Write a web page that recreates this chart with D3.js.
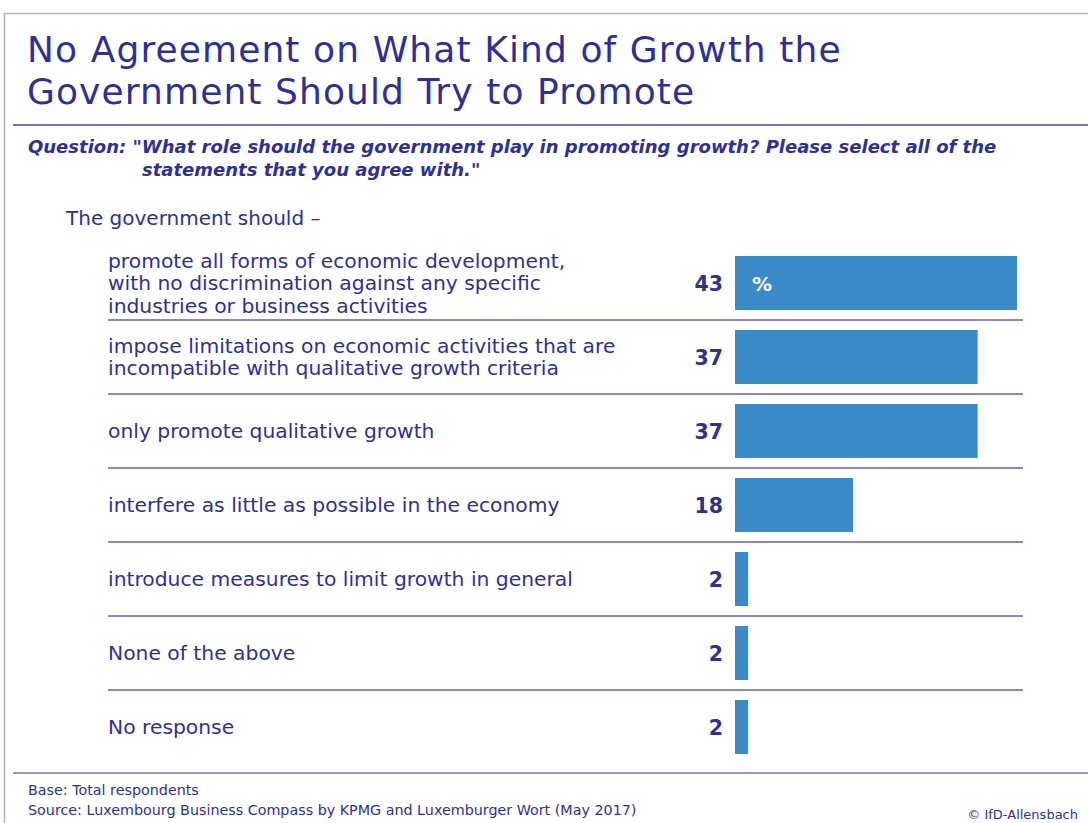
<!DOCTYPE html>
<html>
<head>
<meta charset="utf-8">
<script src="https://cdn.jsdelivr.net/npm/d3@7"></script>
<style>
  html, body { margin: 0; padding: 0; background: #fff; }
  svg { display: block; font-family: "DejaVu Sans", "Liberation Sans", sans-serif; }
</style>
</head>
<body>
<svg id="chart" width="1088" height="823"></svg>
<script>
// Survey answers (multiple selections allowed), in percent
const categories = [
  ["promote all forms of economic development,", "with no discrimination against any specific", "industries or business activities"],
  ["impose limitations on economic activities that are", "incompatible with qualitative growth criteria"],
  ["only promote qualitative growth"],
  ["interfere as little as possible in the economy"],
  ["introduce measures to limit growth in general"],
  ["None of the above"],
  ["No response"]
];
const values = [43, 37, 37, 18, 2, 2, 2];

const titleLines = ["No Agreement on What Kind of Growth the", "Government Should Try to Promote"];
const questionLines = ["Question: \"What role should the government play in promoting growth? Please select all of the", "statements that you agree with.\""];
const leadIn = "The government should \u2013";
const footnotes = ["Base: Total respondents", "Source: Luxembourg Business Compass by KPMG and Luxemburger Wort (May 2017)"];
const credit = "\u00a9 IfD-Allensbach";

const navy = "#2e3192";
const barColor = "#3b8bc9";
const ruleColor = "#7474bb";

const svg = d3.select("#chart");

// page frame
svg.append("path")
  .attr("d", "M4.5,823 V13.5 H1088")
  .attr("fill", "none").attr("stroke", "#b4b4b4").attr("stroke-width", 1.5);

// two-line title
svg.append("text")
  .attr("fill", navy).attr("font-size", 36).attr("letter-spacing", 1.1)
  .selectAll("tspan").data(titleLines).join("tspan")
  .attr("x", 27).attr("y", (d, i) => 62 + i * 42)
  .text(d => d);

svg.append("line").attr("x1", 13).attr("x2", 1088).attr("y1", 125).attr("y2", 125)
  .attr("stroke", ruleColor).attr("stroke-width", 2);

// question, second line indented under the quote
svg.append("text")
  .attr("fill", navy).attr("font-size", 18).attr("font-weight", "bold").attr("font-style", "italic")
  .selectAll("tspan").data(questionLines).join("tspan")
  .attr("x", (d, i) => i === 0 ? 28 : 142).attr("y", (d, i) => 153 + i * 23)
  .text(d => d);

svg.append("text").attr("x", 66).attr("y", 225)
  .attr("fill", navy).attr("font-size", 20).text(leadIn);

// scales
const y = d3.scaleBand().domain(d3.range(values.length)).range([246, 764]).paddingInner(0.27).paddingOuter(0.135);
const x = d3.scaleLinear().domain([0, 43]).range([735, 1017]);
const step = y.step();

const rows = svg.append("g").selectAll("g").data(values).join("g");

rows.append("rect")
  .attr("x", x(0)).attr("y", (d, i) => y(i))
  .attr("width", d => x(d) - x(0)).attr("height", y.bandwidth())
  .attr("fill", barColor);

rows.append("text")
  .attr("x", 723).attr("y", (d, i) => y(i) + y.bandwidth() / 2 + 8)
  .attr("text-anchor", "end").attr("fill", navy)
  .attr("font-size", 20.5).attr("font-weight", "bold")
  .text(d => d);

// category labels
rows.each(function (d, i) {
  const lines = categories[i];
  const lh = 22.5;
  const cy = y(i) + y.bandwidth() / 2;
  d3.select(this).append("text")
    .attr("fill", navy).attr("font-size", 20.3)
    .selectAll("tspan").data(lines).join("tspan")
    .attr("x", 108)
    .attr("y", (t, k) => cy + 7 + (k - (lines.length - 1) / 2) * lh)
    .text(t => t);
});

// separators between rows
svg.append("g").selectAll("line").data(d3.range(1, values.length)).join("line")
  .attr("x1", 108).attr("x2", 1023)
  .attr("y1", i => y(i) - (step - y.bandwidth()) / 2)
  .attr("y2", i => y(i) - (step - y.bandwidth()) / 2)
  .attr("stroke", "#6262ae").attr("stroke-width", 1.5);

// unit marker inside the first bar
svg.append("text")
  .attr("x", x(0) + 17).attr("y", y(0) + y.bandwidth() / 2 + 8)
  .attr("fill", "#fff").attr("font-size", 20).attr("font-weight", "bold")
  .text("%");

// footer
svg.append("line").attr("x1", 13).attr("x2", 1088).attr("y1", 773).attr("y2", 773)
  .attr("stroke", ruleColor).attr("stroke-width", 1.5);

svg.append("g").selectAll("text").data(footnotes).join("text")
  .attr("x", 28).attr("y", (d, i) => 795 + i * 20)
  .attr("fill", navy).attr("font-size", 14.3)
  .text(d => d);

svg.append("text").attr("x", 1078).attr("y", 819).attr("text-anchor", "end")
  .attr("fill", navy).attr("font-size", 13).text(credit);
</script>
</body>
</html>
